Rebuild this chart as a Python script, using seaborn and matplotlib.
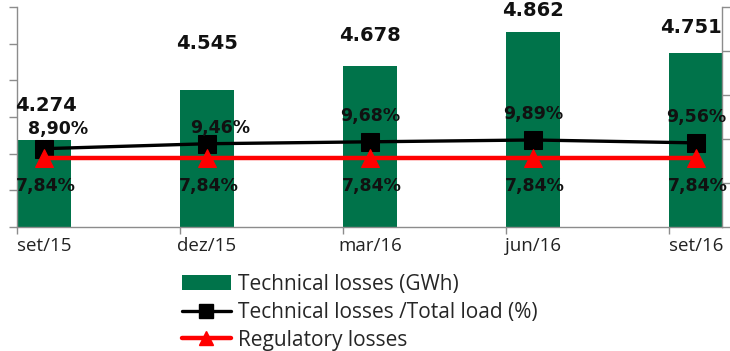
import numpy as np
import matplotlib
matplotlib.use("Agg")
import matplotlib.pyplot as plt
from matplotlib.patches import Patch
from matplotlib.lines import Line2D
import seaborn as sns

# Quarterly data
categories = ["set/15", "dez/15", "mar/16", "jun/16", "set/16"]
technical_gwh = [4274, 4545, 4678, 4862, 4751]
technical_pct = [8.90, 9.46, 9.68, 9.89, 9.56]
regulatory_pct = [7.84, 7.84, 7.84, 7.84, 7.84]

# Label placement (pixels) relative to the marks
gwh_label_dy = [35, 47, 31, 22, 25]
gwh_label_dx = [2, 0, 0, 0, -5]
pct_label_dy = [20, 16, 26, 26, 26]
pct_label_dx = [14, 13, 0, 0, 0]

GREEN = "#00734a"
GRID = "#8c8c8c"
BAR_W = 0.33

sns.set_style("white")
plt.rcParams["font.family"] = ["DejaVu Sans"]

W, H = 730, 351
fig = plt.figure(figsize=(W / 100, H / 100), dpi=100)
ax = fig.add_axes([17 / W, 124 / H, (722 - 17) / W, 220 / H])

pos = np.arange(len(categories))

sns.barplot(x=pos, y=technical_gwh, color=GREEN, saturation=1, width=BAR_W,
            linewidth=0, ax=ax, native_scale=True)
ax.set_ylim(3800, 5000)
ax.set_xlim(-0.166, 4.16)

ax2 = ax.twinx()
sns.lineplot(x=pos, y=technical_pct, color="black", lw=2.4, marker="s",
             markersize=13, markeredgecolor="black", ax=ax2)
sns.lineplot(x=pos, y=regulatory_pct, color="#ff0000", lw=3.2, marker="^",
             markersize=13, markeredgecolor="#ff0000", ax=ax2)
ax2.set_ylim(0, 25)
ax2.set_xlim(-0.166, 4.16)

# Axes styling
for a in (ax, ax2):
    for s in a.spines.values():
        s.set_visible(False)
        s.set_color(GRID)
        s.set_linewidth(1)
ax.spines["left"].set_visible(True)
ax.spines["bottom"].set_visible(True)
ax2.spines["right"].set_visible(True)

ax.set_yticks(np.arange(3800, 5001, 200))
ax.set_yticklabels([])
ax.tick_params(axis="y", which="major", direction="out", length=6, color=GRID, width=1, left=True)
ax2.set_yticks(np.arange(0, 26, 5))
ax2.set_yticklabels([])
ax2.tick_params(axis="y", which="major", direction="out", length=6, color=GRID, width=1, right=True)
ax2.set_ylabel("")

ax.set_xticks(pos)
ax.set_xticklabels(categories, fontfamily="Open Sans", fontsize=13.5, color="#222222")
ax.tick_params(axis="x", which="major", length=0, pad=7.5)
ax.set_xticks(pos - BAR_W / 2, minor=True)
ax.tick_params(axis="x", which="minor", direction="out", length=5, color=GRID, width=1, bottom=True)
ax.set_xlabel("")
ax.set_ylabel("")

px = 0.72  # points per pixel at 100 dpi

for i, v in enumerate(technical_gwh):
    ax.annotate(f"{v:,}".replace(",", "."), (pos[i], v),
                xytext=(gwh_label_dx[i] * px, gwh_label_dy[i] * px),
                textcoords="offset points", ha="center", va="center",
                fontsize=14, fontweight="bold", color="#111111",
                annotation_clip=False)

for i, v in enumerate(technical_pct):
    ax2.annotate(f"{v:.2f}%".replace(".", ","), (pos[i], v),
                 xytext=(pct_label_dx[i] * px, pct_label_dy[i] * px),
                 textcoords="offset points", ha="center", va="center",
                 fontsize=12.5, fontweight="bold", color="#111111",
                 annotation_clip=False)

for i, v in enumerate(regulatory_pct):
    ax2.annotate(f"{v:.2f}%".replace(".", ","), (pos[i], v),
                 xytext=(2 * px, -28 * px),
                 textcoords="offset points", ha="center", va="center",
                 fontsize=12.5, fontweight="bold", color="#111111",
                 annotation_clip=False)

handles = [
    Patch(facecolor=GREEN, edgecolor="none"),
    Line2D([], [], color="black", lw=2.4, marker="s", markersize=10),
    Line2D([], [], color="#ff0000", lw=3.2, marker="^", markersize=10),
]
labels = ["Technical losses (GWh)", "Technical losses /Total load (%)", "Regulatory losses"]
fig.legend(handles, labels, loc="upper left", bbox_to_anchor=(182 / W, 1 - 274 / H),
           frameon=False, borderpad=0, borderaxespad=0, handlelength=2.35,
           handletextpad=0.33, labelspacing=0.33,
           prop={"family": "Open Sans", "size": 15})

fig.savefig("out.png", dpi=100)
